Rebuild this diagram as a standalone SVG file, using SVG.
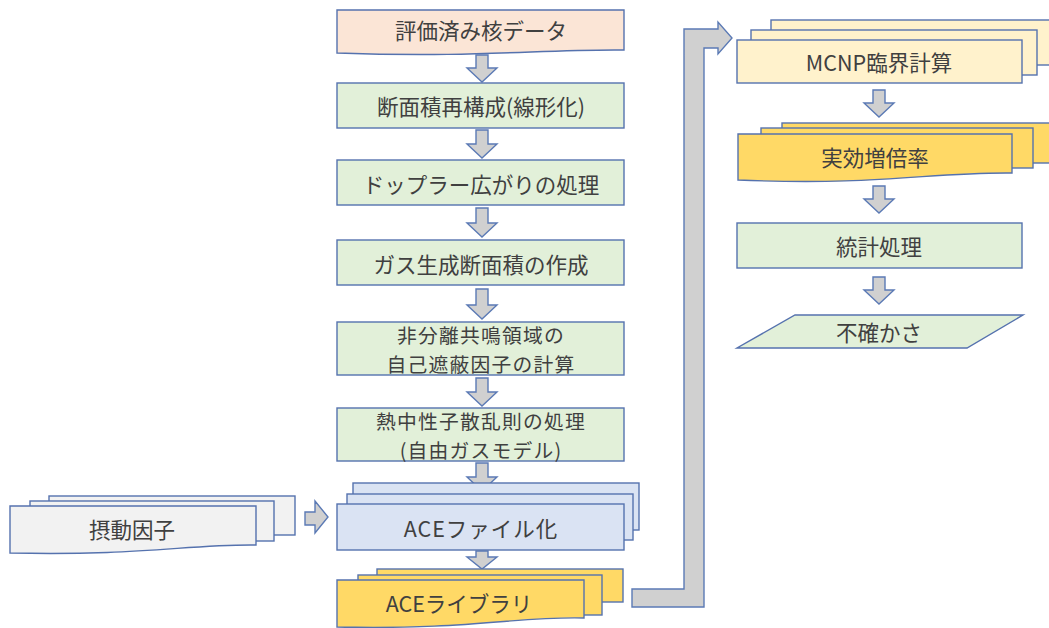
<svg xmlns="http://www.w3.org/2000/svg" width="1049" height="628" viewBox="0 0 1049 628">
<style>
.s{stroke:#5572AE;stroke-width:1.4}
.pk{fill:#FBE5D6}.gr{fill:#E2F0D9}.bl{fill:#DAE3F3}.yl{fill:#FFD966}.ly{fill:#FFF2CC}.gy{fill:#F2F2F2}
.ar{fill:#D0D0D0;stroke:#5B7AB5;stroke-width:1.4}
text{font-family:"Noto Sans CJK JP","Noto Sans",sans-serif;font-size:21.5px;fill:#404040;text-anchor:middle;dominant-baseline:central}
text.two{font-size:19.8px;letter-spacing:1.2px}
</style>
<rect width="1049" height="628" fill="#fff"/>
<g id="connectors">
<polygon class="ar" points="476,55 488,55 488,68 497,68 482,82 467,68 476,68"/>
<polygon class="ar" points="476,130 488,130 488,144 497,144 482,158 467,144 476,144"/>
<polygon class="ar" points="476,208 488,208 488,223 497,223 482,237 467,223 476,223"/>
<polygon class="ar" points="476,289 488,289 488,305 497,305 482,319 467,305 476,305"/>
<polygon class="ar" points="476,378 488,378 488,392 497,392 482,406 467,392 476,392"/>
<polygon class="ar" points="476,463 488,463 488,477 497,477 482,491 467,477 476,477"/>
<polygon class="ar" points="476,551 488,551 488,557 497,557 482,569 467,557 476,557"/>
<polygon class="ar" points="873,90 885,90 885,103 894,103 879,117 864,103 873,103"/>
<polygon class="ar" points="873,186 885,186 885,199 894,199 879,213 864,199 873,199"/>
<polygon class="ar" points="873,277 885,277 885,290 894,290 879,304 864,290 873,290"/>
<polygon class="ar" points="305,512 315,512 315,501 328,517 315,533 315,525 305,525"/>
<polygon class="ar" points="632,589 684,589 684,29 718,29 718,22 732,38 718,54 718,48 704,48 704,607 632,607"/>
</g>
<g id="n1"><path class="s pk" d="M337,10 H624 V50 C540,49 480,58 337,53 Z"/><text x="481" y="29">評価済み核データ</text></g>
<g id="n2"><rect class="s gr" x="337" y="83" width="287" height="45"/><text x="481" y="105">断面積再構成(線形化)</text></g>
<g id="n3"><rect class="s gr" x="337" y="160" width="287" height="45"/><text x="481" y="183">ドップラー広がりの処理</text></g>
<g id="n4"><rect class="s gr" x="337" y="240" width="287" height="45"/><text x="481" y="263">ガス生成断面積の作成</text></g>
<g id="n5"><rect class="s gr" x="337" y="322" width="287" height="53"/><text class="two"><tspan x="481" y="334">非分離共鳴領域の</tspan><tspan x="481" y="363">自己遮蔽因子の計算</tspan></text></g>
<g id="n6"><rect class="s gr" x="337" y="408" width="287" height="53"/><text class="two"><tspan x="481" y="420">熱中性子散乱則の処理</tspan><tspan x="481" y="449">(自由ガスモデル)</tspan></text></g>
<g id="n7">
<rect class="s bl" x="353" y="483" width="286" height="47"/>
<rect class="s bl" x="347" y="494" width="286" height="46"/>
<rect class="s bl" x="337" y="504" width="287" height="46"/>
<text x="481" y="527" letter-spacing="1">ACEファイル化</text></g>
<g id="n8">
<rect class="s yl" x="377" y="569" width="246" height="33"/>
<rect class="s yl" x="358" y="575" width="244" height="40"/>
<path class="s yl" d="M337,580 H584 V618 C520,616 470,630 337,627 Z"/>
<text x="459" y="602">ACEライブラリ</text></g>
<g id="n9">
<rect class="s gy" x="49" y="496" width="246" height="39"/>
<rect class="s gy" x="30" y="501" width="244" height="40"/>
<path class="s gy" d="M10,506 H256 V545 C190,544 140,556 10,553 Z"/>
<text x="132" y="528">摂動因子</text></g>
<g id="n10">
<rect class="s ly" x="771" y="20" width="290" height="45"/>
<rect class="s ly" x="751" y="30" width="286" height="45"/>
<rect class="s ly" x="737" y="40" width="285" height="43"/>
<text x="879" y="61">MCNP臨界計算</text></g>
<g id="n11">
<rect class="s yl" x="782" y="123" width="290" height="40"/>
<rect class="s yl" x="761" y="128" width="272" height="40"/>
<path class="s yl" d="M738,134 H1012 V173 C930,172 880,186 738,180 Z"/>
<text x="875" y="156">実効増倍率</text></g>
<g id="n12"><rect class="s gr" x="737" y="223" width="285" height="45"/><text x="879" y="245">統計処理</text></g>
<g id="n13"><polygon class="s gr" points="795,315 1023,315 967,348 737,348"/><text x="879" y="331">不確かさ</text></g>
</svg>
